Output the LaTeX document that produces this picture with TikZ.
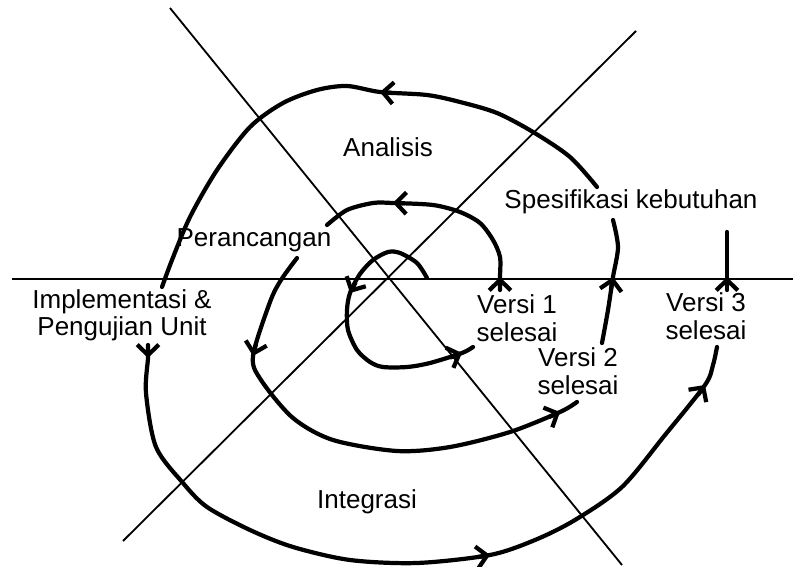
\documentclass[tikz,border=0pt]{standalone}
\usepackage{fontspec}
\setmainfont{Liberation Sans}
\usepackage{tikz}
\usetikzlibrary{arrows.meta}

\tikzset{
    spiral/.style={line width=3pt, line cap=round, line join=round},
    barb/.style={line width=3pt, -{Straight Barb[length=2.6mm, width=5.4mm]}},
    axis/.style={line width=1.3pt},
    phase/.style={font=\fontsize{18.5}{19.5}\selectfont, align=center, inner sep=1pt}
}

\begin{document}
\begin{tikzpicture}[]
    \useasboundingbox (0,0) rectangle (19.85,-14.175);

    \draw[axis] (0.3,-6.975) -- (19.825,-6.975);
    \draw[axis] (4.25,-0.2) -- (15.55,-14.125);
    \draw[axis] (15.9,-0.775) -- (3.075,-13.525);

    \draw[spiral] plot[smooth] coordinates {(10.675,-6.95) (10.425,-6.575) (10,-6.325) (9.7,-6.3) (9.325,-6.5) (9,-6.85) (8.75,-7.325) (8.675,-7.75) (8.7,-8.25) (8.925,-8.75) (9.25,-9.05) (9.575,-9.175) (10.175,-9.175) (10.75,-9.075) (11.55,-8.825) (11.825,-8.675)};

    \draw[spiral] plot[smooth] coordinates {(12.5,-7.25) (12.5,-6.925) (12.5,-6.425) (12.325,-6) (12,-5.575) (11.5,-5.3) (10.825,-5.125) (9.825,-5.075) (9.325,-5.075) (8.675,-5.25) (8.175,-5.625)};

    \draw[spiral] plot[smooth] coordinates {(7.425,-6.45) (7.025,-7) (6.75,-7.55) (6.325,-8.9) (6.525,-9.5) (7.325,-10.45) (8.325,-11) (9.925,-11.275) (11.25,-11.175) (12.75,-10.8) (14,-10.3) (14.425,-10.05)};

    \draw[spiral] plot[smooth] coordinates {(15.05,-8.575) (15.2,-7.75) (15.325,-6.925) (15.45,-6.175) (15.325,-5.5)};

    \draw[spiral] plot[smooth] coordinates {(14.925,-4.675) (14.25,-3.925) (13.325,-3.3) (12.425,-2.825) (11.5,-2.55) (10.675,-2.375) (9.5,-2.3) (8.675,-2.15) (7.925,-2.25) (7.075,-2.575) (6.25,-3.175) (5.425,-4.25) (4.75,-5.425) (4.3,-6.5) (4.05,-7.175)};

    \draw[spiral] plot[smooth] coordinates {(3.7,-8.625) (3.7,-8.95) (3.65,-9.825) (3.9,-11.175) (4.575,-12.075) (5.175,-12.675) (6.25,-13.25) (7.325,-13.675) (8.75,-14) (10.425,-14.075) (12.25,-13.875) (13.375,-13.5) (14.375,-13) (15.55,-12.175) (16.625,-10.875) (17.625,-9.625) (17.825,-9.125) (17.925,-8.675)};

    \draw[spiral] (18.175,-7.25) -- (18.175,-5.8);

    % arrowheads along the spiral
    \draw[barb] (8.89,-7.06) -- (8.75,-7.325);
    \draw[barb] (11.25,-8.94) -- (11.55,-8.825);
    \draw[barb] (12.5,-7.225) -- (12.5,-6.925);
    \draw[barb] (10.125,-5.08) -- (9.825,-5.075);
    \draw[barb] (6.4,-8.6) -- (6.325,-8.9);
    \draw[barb] (13.725,-10.425) -- (14,-10.3);
    \draw[barb] (15.275,-7.225) -- (15.325,-6.925);
    \draw[barb] (9.8,-2.325) -- (9.5,-2.3);
    \draw[barb] (3.7,-8.65) -- (3.7,-8.95);
    \draw[barb] (11.95,-13.925) -- (12.25,-13.875);
    \draw[barb] (17.45,-9.875) -- (17.625,-9.625);
    \draw[barb] (18.175,-7.25) -- (18.175,-6.925);

    \node[phase] (analisis) at (9.7,-3.675) {Analisis};
    \node[phase] (perancangan) at (6.35,-6.0) {Perancangan};
    \node[phase] (spesifikasi) at (15.775,-5.05) {Spesifikasi kebutuhan};
    \node[phase] (implementasi) at (3.05,-7.875) {Implementasi \&\\Pengujian Unit};
    \node[phase] (versi1) at (12.925,-7.95) {Versi 1\\selesai};
    \node[phase] (versi2) at (14.45,-9.275) {Versi 2\\selesai};
    \node[phase] (versi3) at (17.65,-7.9) {Versi 3\\selesai};
    \node[phase] (integrasi) at (9.175,-12.55) {Integrasi};

\end{tikzpicture}
\end{document}
